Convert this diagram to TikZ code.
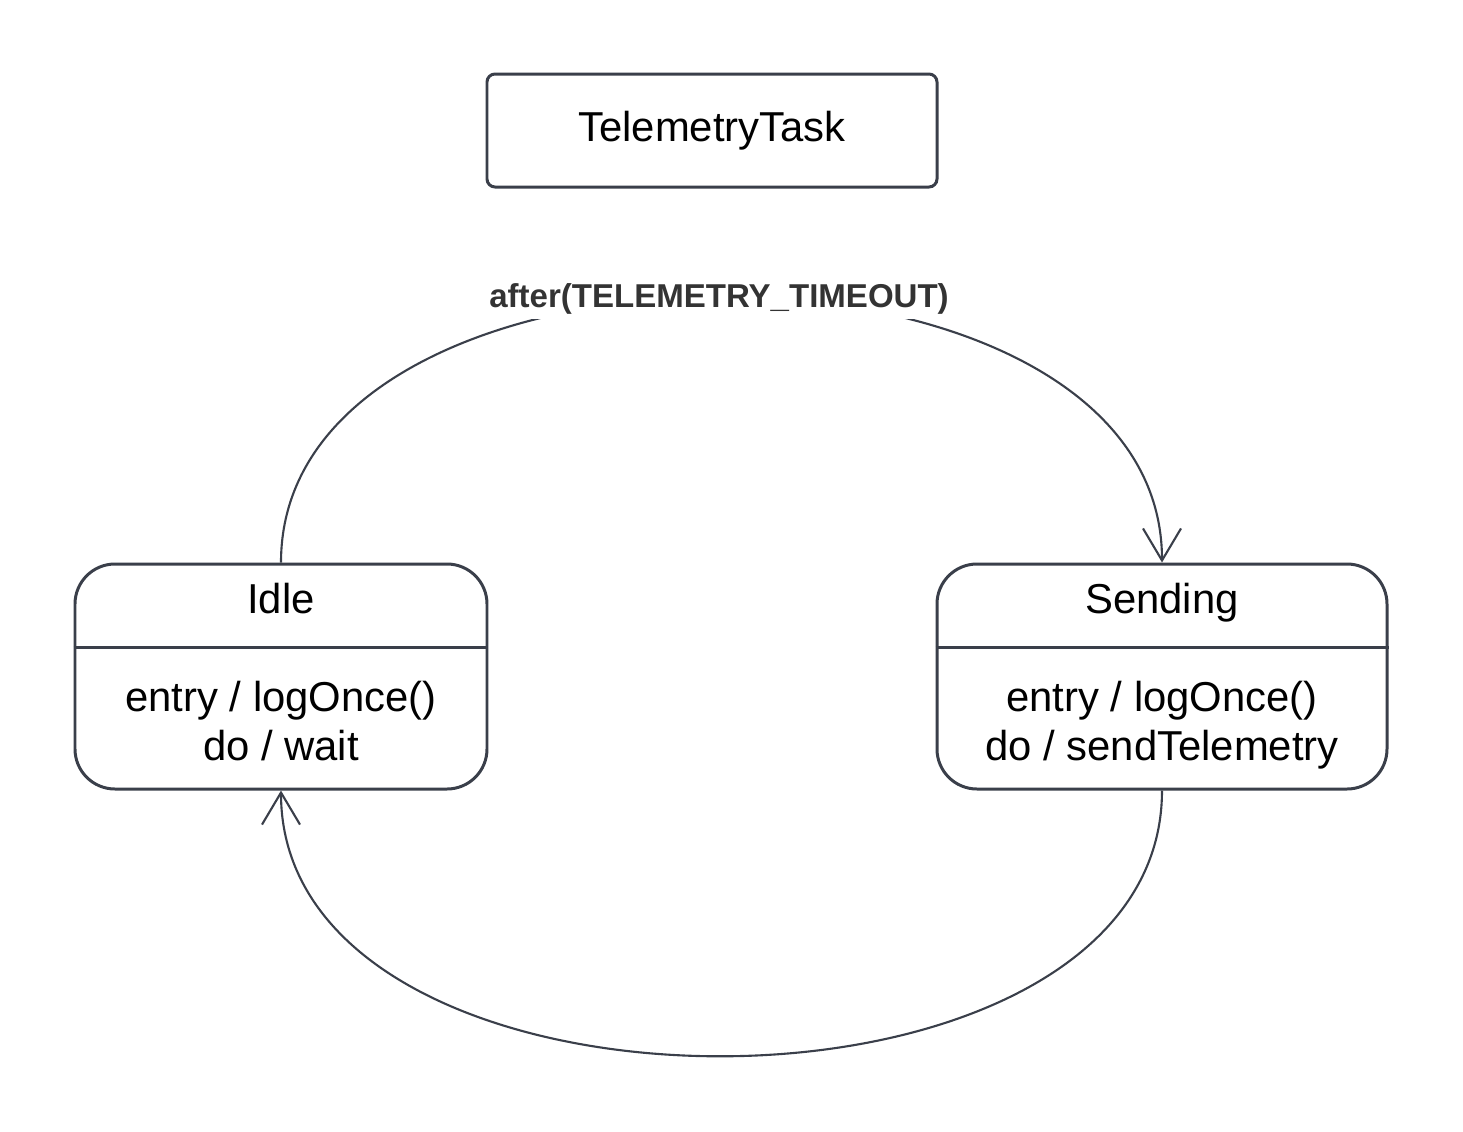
\documentclass[tikz,border=0pt]{standalone}
\usepackage{fontspec}
\setmainfont{Liberation Sans}
\usetikzlibrary{arrows.meta}
\definecolor{linegray}{HTML}{3A3F4A}
\definecolor{labelgray}{HTML}{333333}

\begin{document}
\begin{tikzpicture}[
        every node/.style={font=\fontsize{11.9pt}{13.9pt}\selectfont},
        state/.style={draw=linegray, line width=0.85pt, rounded corners=0.4cm,
            minimum height=2.25cm, inner sep=0pt},
        taskbox/.style={draw=linegray, line width=0.85pt, rounded corners=0.08cm,
            minimum width=4.5cm, minimum height=1.13cm},
        statename/.style={text height=0.3cm, text depth=0.08cm},
        acts/.style={align=center, text depth=0.1cm},
        conn/.style={draw=linegray, line width=0.6pt,
            -{Straight Barb[length=0.32cm, width=0.38cm]}},
        guard/.style={font=\fontsize{9.4pt}{11pt}\selectfont\bfseries, text=labelgray,
            fill=white, inner xsep=1pt, inner ysep=1.5pt}
    ]
    \useasboundingbox (0,0) rectangle (14.63,-11.31);
    % task name
    \node [taskbox] (task) at (7.12,-1.305) {TelemetryTask};
    % states
    \node [state, minimum width=4.12cm] (idle) at (2.81,-6.765) {};
    \node [state, minimum width=4.5cm] (sending) at (11.62,-6.765) {};
    \draw [linegray, line width=0.85pt] ([yshift=0.295cm]idle.west) -- ([yshift=0.295cm]idle.east);
    \draw [linegray, line width=0.85pt] ([yshift=0.295cm]sending.west) -- ([yshift=0.295cm]sending.east);
    \node [statename] (idlename) at (2.81,-6.02) {Idle};
    \node [acts] (idleacts) at (2.81,-7.26) {entry / logOnce()\\do / wait};
    \node [statename] (sendingname) at (11.62,-6.02) {Sending};
    \node [acts] (sendingacts) at (11.62,-7.26) {entry / logOnce()\\do / sendTelemetry};
    % transitions
    \draw [conn] (idle.north) to[out=90, in=90, looseness=1.03] (sending.north);
    \node [guard, anchor=base] (timeout) at (7.19,-3.07) {after(TELEMETRY\_TIMEOUT)};
    \draw [conn] (sending.south) to[out=-90, in=-90, looseness=1.03] (idle.south);
\end{tikzpicture}
\end{document}
